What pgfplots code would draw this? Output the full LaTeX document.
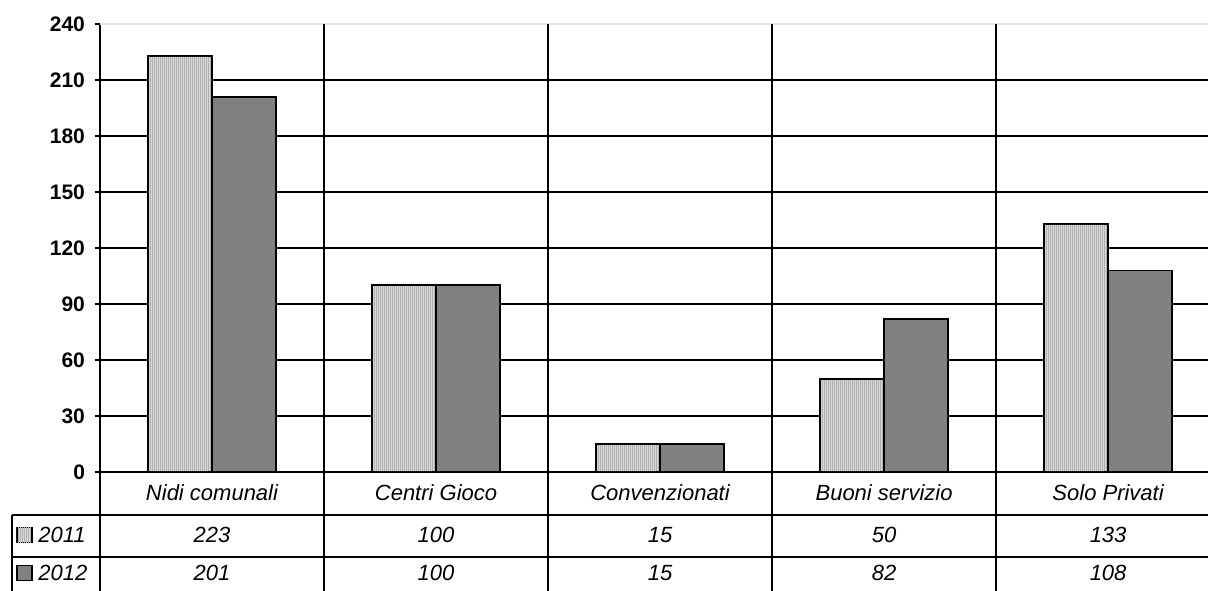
\documentclass[border=0pt]{standalone}
\usepackage{fontspec}
\setmainfont{Liberation Sans}
\usepackage{pgfplots}
\pgfplotsset{compat=1.18}
\usetikzlibrary{patterns.meta}

\definecolor{bar2011}{HTML}{D8D8D8}
\definecolor{bar2012}{HTML}{808080}
\tikzset{hatch2011/.style={fill=bar2011,
    postaction={pattern={Lines[angle=90, distance=1pt, line width=0.45pt]}, pattern color=gray!60}}}
\newcommand{\tabfont}{\itshape\fontsize{11}{13}\selectfont}

\begin{document}
\begin{tikzpicture}
\begin{axis}[
  at={(0,0)}, anchor=south west,
  scale only axis, width=554pt, height=224pt,
  xmin=0, xmax=4.946, ymin=0, ymax=240,
  enlargelimits=false,
  axis x line*=bottom, axis y line*=left,
  axis line style={line width=0.8pt},
  ytick={0,30,...,210},
  extra y ticks={240},
  extra y tick style={grid=major, major grid style={gray!20, line width=0.8pt}},
  ymajorgrids, major grid style={black, line width=0.8pt},
  xtick=\empty,
  tick align=outside, major tick length=2.5pt,
  tick style={black, line width=0.8pt},
  /pgf/number format/assume math mode=true,
  yticklabel style={font=\bfseries\fontsize{10.5}{12}\selectfont, xshift=-1.5pt},
  ybar=0pt, bar width=32pt,
  clip=false,
]
% 2011
\addplot[draw=black, line width=0.9pt, hatch2011] coordinates {
  (0.5,223) (1.5,100) (2.5,15) (3.5,50) (4.5,133)
};
% 2012
\addplot[draw=black, line width=0.9pt, fill=bar2012] coordinates {
  (0.5,201) (1.5,100) (2.5,15) (3.5,82) (4.5,108)
};

% data table below the chart
\pgfplotsinvokeforeach{1,2,3,4}{
  \draw[line width=0.8pt] (axis cs:#1,240) -- ([yshift=-62pt]axis cs:#1,0);
}
\draw[line width=0.8pt] (axis cs:0,0) -- ([yshift=-62pt]axis cs:0,0);
\draw[line width=0.8pt] ([xshift=-44pt,yshift=-21.5pt]axis cs:0,0) -- ([yshift=-21.5pt]axis cs:5.2,0);
\draw[line width=0.8pt] ([xshift=-44pt,yshift=-42.5pt]axis cs:0,0) -- ([yshift=-42.5pt]axis cs:5.2,0);
\draw[line width=0.8pt] ([xshift=-44pt,yshift=-21.5pt]axis cs:0,0) -- ([xshift=-44pt,yshift=-62pt]axis cs:0,0);

\node[font=\tabfont] at ([yshift=-10.5pt]axis cs:0.5,0) {Nidi comunali};
\node[font=\tabfont] at ([yshift=-10.5pt]axis cs:1.5,0) {Centri Gioco};
\node[font=\tabfont] at ([yshift=-10.5pt]axis cs:2.5,0) {Convenzionati};
\node[font=\tabfont] at ([yshift=-10.5pt]axis cs:3.5,0) {Buoni servizio};
\node[font=\tabfont] at ([yshift=-10.5pt]axis cs:4.5,0) {Solo Privati};

\node[font=\tabfont] at ([yshift=-31.5pt]axis cs:0.5,0) {223};
\node[font=\tabfont] at ([yshift=-31.5pt]axis cs:1.5,0) {100};
\node[font=\tabfont] at ([yshift=-31.5pt]axis cs:2.5,0) {15};
\node[font=\tabfont] at ([yshift=-31.5pt]axis cs:3.5,0) {50};
\node[font=\tabfont] at ([yshift=-31.5pt]axis cs:4.5,0) {133};

\node[font=\tabfont] at ([yshift=-50.5pt]axis cs:0.5,0) {201};
\node[font=\tabfont] at ([yshift=-50.5pt]axis cs:1.5,0) {100};
\node[font=\tabfont] at ([yshift=-50.5pt]axis cs:2.5,0) {15};
\node[font=\tabfont] at ([yshift=-50.5pt]axis cs:3.5,0) {82};
\node[font=\tabfont] at ([yshift=-50.5pt]axis cs:4.5,0) {108};

% legend keys in the table
\draw[line width=0.7pt, hatch2011] ([xshift=-41.5pt,yshift=-35.25pt]axis cs:0,0) rectangle ([xshift=-34pt,yshift=-27.75pt]axis cs:0,0);
\draw[line width=0.7pt, fill=bar2012] ([xshift=-41.5pt,yshift=-54.25pt]axis cs:0,0) rectangle ([xshift=-34pt,yshift=-46.75pt]axis cs:0,0);
\node[font=\tabfont, anchor=west, inner sep=0pt] at ([xshift=-31pt,yshift=-31.5pt]axis cs:0,0) {2011};
\node[font=\tabfont, anchor=west, inner sep=0pt] at ([xshift=-31pt,yshift=-50.5pt]axis cs:0,0) {2012};
\end{axis}
\pgfresetboundingbox
\path (-50pt,-59pt) rectangle (554pt,236pt);
\end{tikzpicture}
\end{document}
